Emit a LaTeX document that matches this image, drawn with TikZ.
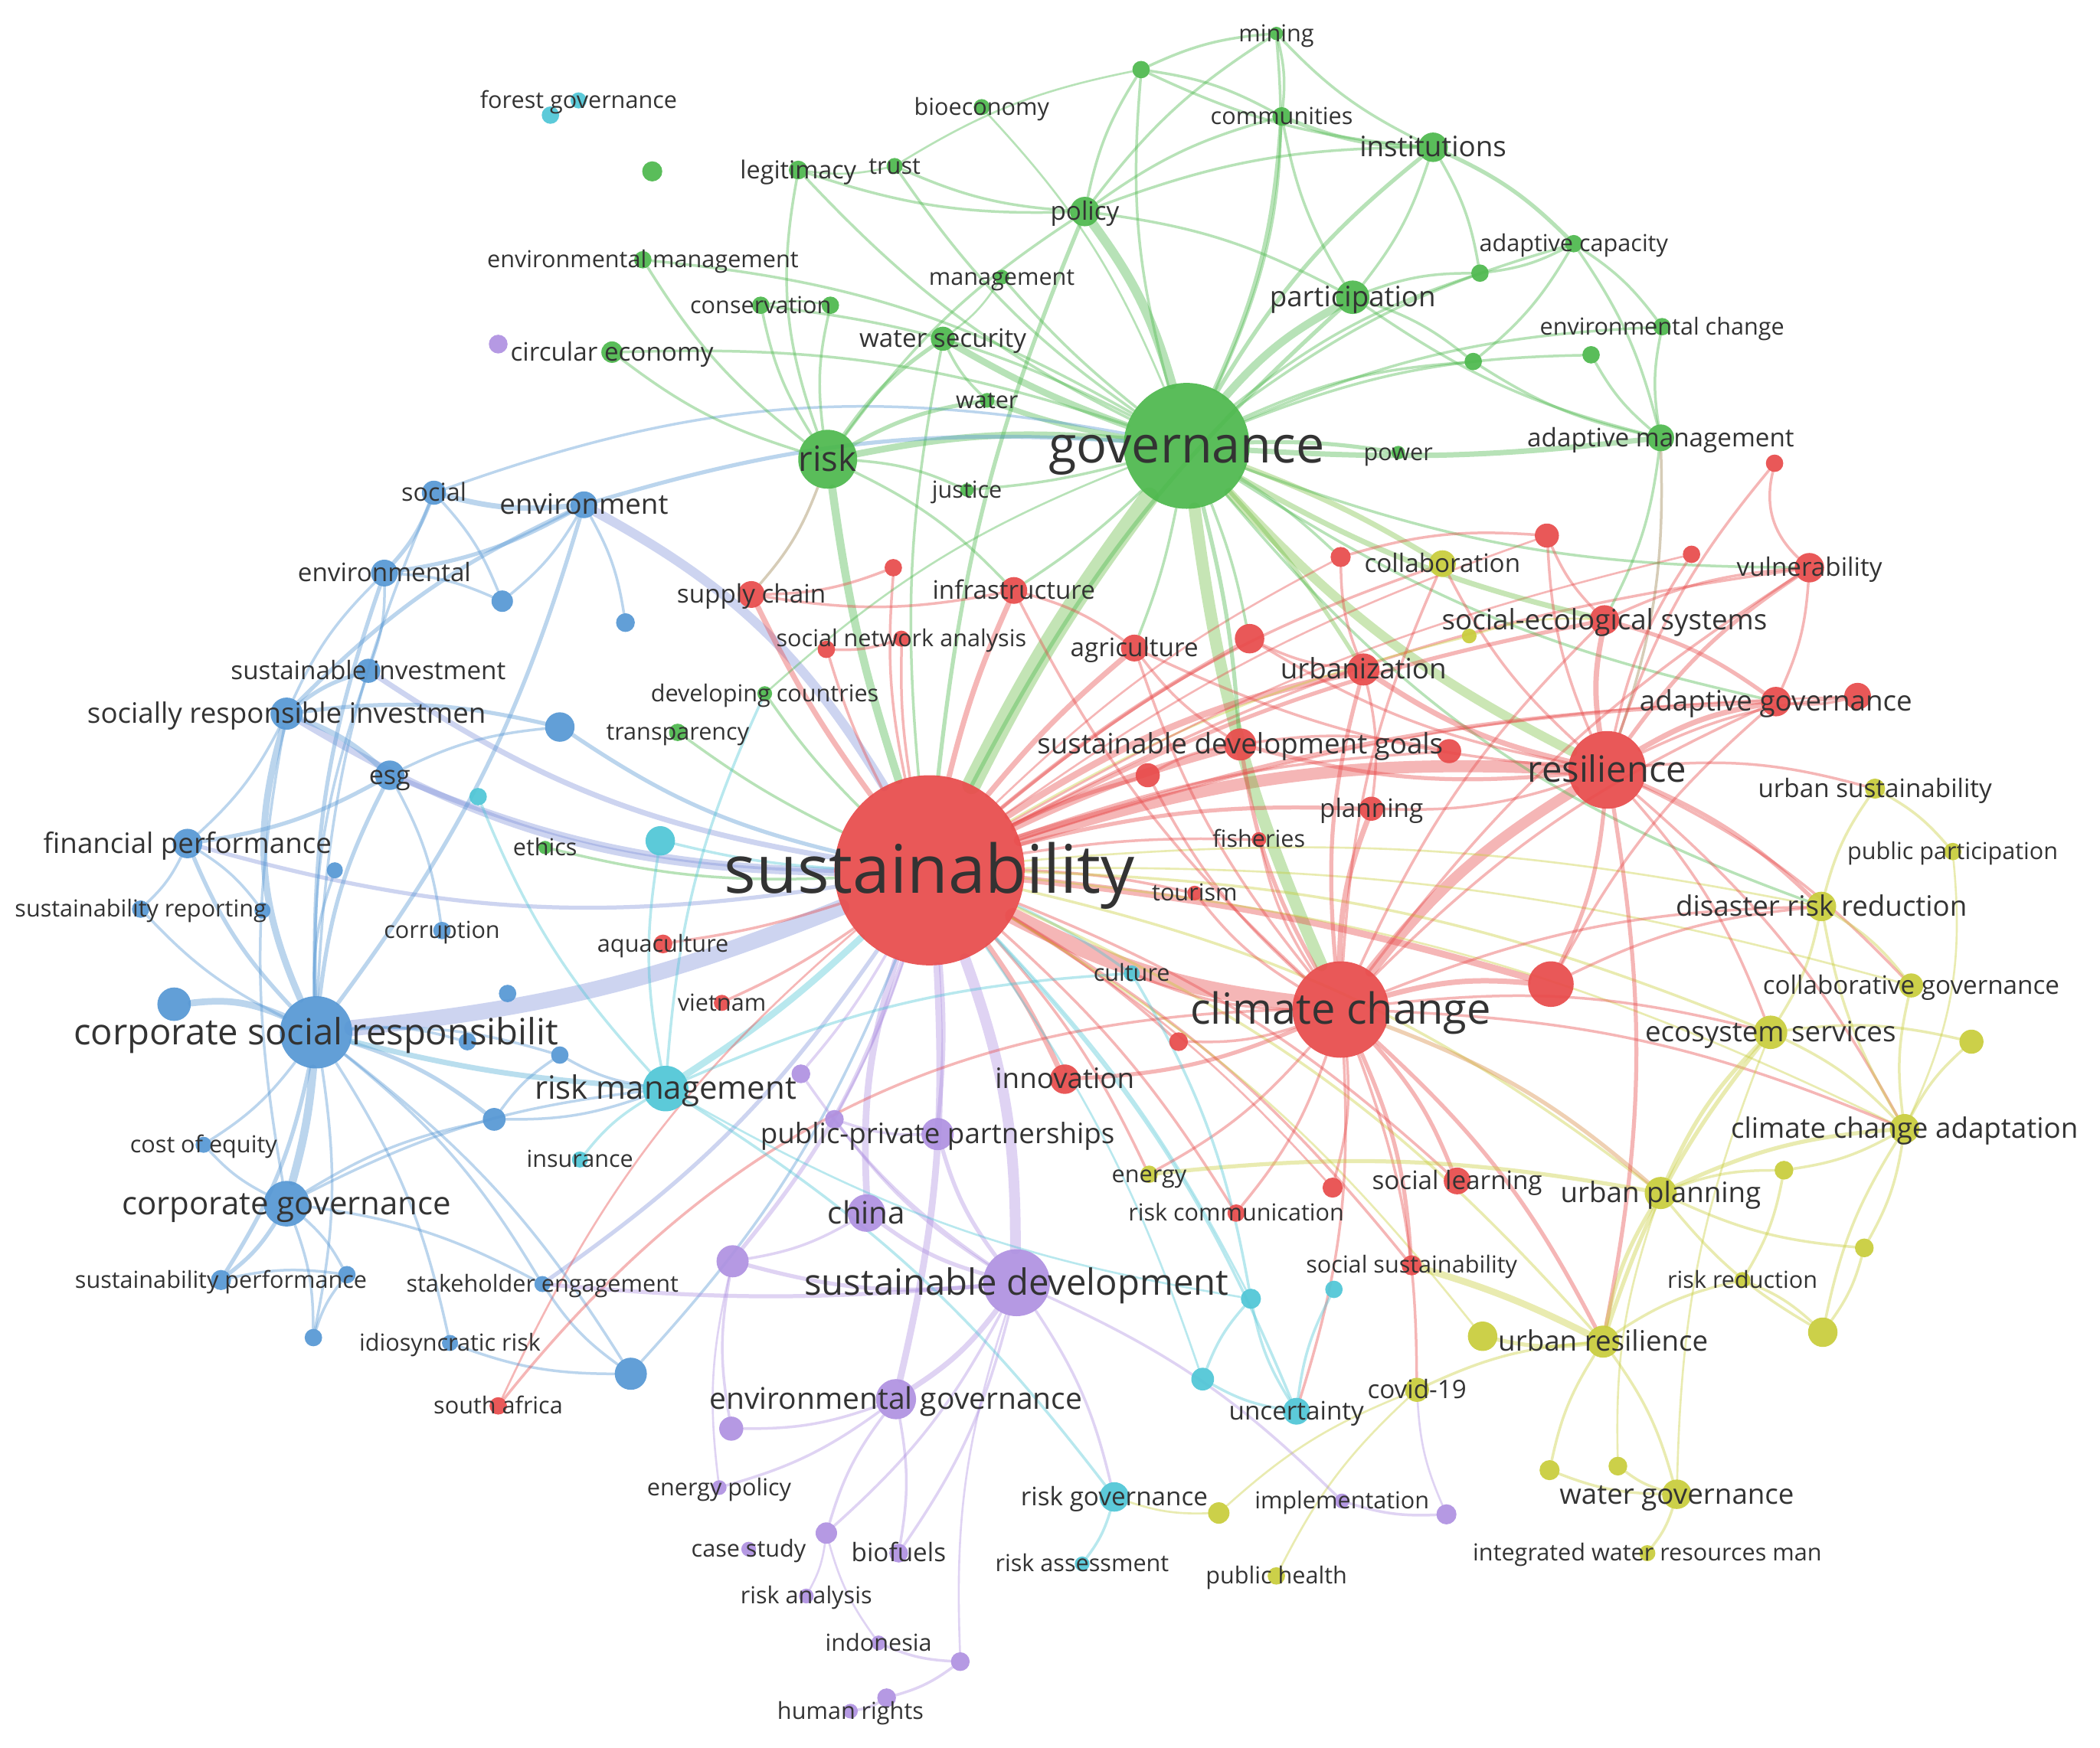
\documentclass[tikz,border=0pt]{standalone}
\usepackage{fontspec}
\setmainfont{Open Sans}
\definecolor{cR}{HTML}{E84A4A}
\definecolor{cG}{HTML}{4CB84C}
\definecolor{cB}{HTML}{5597D4}
\definecolor{cY}{HTML}{C8CD3A}
\definecolor{cP}{HTML}{AF91E1}
\definecolor{cC}{HTML}{4FC6D6}
\definecolor{txt}{HTML}{333333}
\pgfdeclarelayer{back}\pgfdeclarelayer{bg}
\pgfsetlayers{back,bg,main}
\tikzset{
  dot/.style={circle,inner sep=0pt,draw=none,fill opacity=0.92},
  lbl/.style={text=txt,inner sep=0pt,anchor=base},
  ed/.style={draw opacity=0.4,line cap=round}
}
\newcommand\mynode[4]{\node[dot,fill=#4,minimum size=#3pt] (#1) at (#2) {};}
\newcommand\mylab[3]{\node[lbl,font=\fontsize{#2}{#2}\selectfont,yshift=-#2*0.34pt] (#1-l) at (#1.center) {#3};}
\begin{document}
\begin{tikzpicture}[x=1pt,y=-1pt]
\begin{pgfonlayer}{back}
\fill[white] (0,0) rectangle (1568,1305);
\end{pgfonlayer}
\useasboundingbox (0,0) rectangle (1568,1305);
% green
\mynode{mining}{953,25}{10}{cG}
\mynode{gA}{852,52}{13}{cG}
\mynode{commun}{957,87}{14}{cG}
\mynode{instit}{1070,110}{22}{cG}
\mynode{bioeco}{733,80}{12}{cG}
\mynode{legit}{596,127}{14}{cG}
\mynode{trust}{668,124}{12}{cG}
\mynode{gB}{487,128}{15}{cG}
\mynode{policy}{810,158}{22}{cG}
\mynode{envmgmt}{480,194}{13}{cG}
\mynode{mgmt}{748,207}{11}{cG}
\mynode{conserv}{568,228}{13}{cG}
\mynode{gC}{620,228}{13}{cG}
\mynode{watersec}{704,253}{18}{cG}
\mynode{circec}{457,263}{16}{cG}
\mynode{water}{737,299}{11}{cG}
\mynode{risk}{618,343}{44}{cG}
\mynode{justice}{722,366}{10}{cG}
\mynode{partic}{1010,222}{25}{cG}
\mynode{gD}{1105,204}{13}{cG}
\mynode{gE}{1100,270}{13}{cG}
\mynode{adcap}{1175,182}{13}{cG}
\mynode{envch}{1241,244}{13}{cG}
\mynode{gF}{1188,265}{13}{cG}
\mynode{power}{1044,338}{10}{cG}
\mynode{adman}{1240,327}{20}{cG}
\mynode{gov}{886,333}{94}{cG}
\mynode{devc}{571,518}{11}{cG}
\mynode{transp}{506,547}{13}{cG}
\mynode{ethics}{407,633}{10}{cG}
% blue
\mynode{forgov}{432,75}{12}{cC}
\mynode{cA}{411,86}{13}{cC}
\mynode{social}{324,368}{18}{cB}
\mynode{environment}{436,377}{20}{cB}
\mynode{envtal}{287,428}{20}{cB}
\mynode{bA}{375,449}{16}{cB}
\mynode{bB}{467,465}{14}{cB}
\mynode{susinv}{275,501}{18}{cB}
\mynode{sri}{214,533}{24}{cB}
\mynode{bC}{418,543}{22}{cB}
\mynode{esg}{291,579}{22}{cB}
\mynode{cB}{357,595}{13}{cC}
\mynode{cC}{493,628}{22}{cC}
\mynode{finperf}{140,630}{22}{cB}
\mynode{bD}{250,650}{12}{cB}
\mynode{susrep}{105,679}{13}{cB}
\mynode{bE}{196,680}{12}{cB}
\mynode{corrupt}{330,695}{13}{cB}
\mynode{bF}{379,742}{13}{cB}
\mynode{bG}{130,750}{25}{cB}
\mynode{csr}{236,771}{54}{cB}
\mynode{bH}{349,778}{13}{cB}
\mynode{bI}{418,788}{13}{cB}
\mynode{bJ}{369,836}{17}{cB}
\mynode{coe}{152,855}{12}{cB}
\mynode{cgov}{214,899}{34}{cB}
\mynode{susperf}{165,956}{15}{cB}
\mynode{bK}{259,952}{13}{cB}
\mynode{bL}{234,999}{13}{cB}
\mynode{idio}{336,1003}{12}{cB}
\mynode{stake}{405,959}{12}{cB}
\mynode{bM}{471,1026}{24}{cB}
\mynode{insur}{433,866}{12}{cC}
% cyan
\mynode{riskman}{497,813}{34}{cC}
\mynode{culture}{845,727}{12}{cC}
\mynode{cD}{934,970}{15}{cC}
\mynode{cE}{996,963}{13}{cC}
\mynode{cF}{898,1030}{17}{cC}
\mynode{uncert}{968,1054}{20}{cC}
\mynode{riskgov}{832,1118}{22}{cC}
\mynode{riskass}{808,1168}{11}{cC}
% purple
\mynode{sd}{759,958}{50}{cP}
\mynode{china}{647,906}{28}{cP}
\mynode{pA}{547,942}{24}{cP}
\mynode{envgov}{669,1045}{30}{cP}
\mynode{pB}{546,1067}{18}{cP}
\mynode{enpol}{537,1111}{11}{cP}
\mynode{pC}{617,1145}{16}{cP}
\mynode{casest}{559,1157}{11}{cP}
\mynode{biof}{671,1160}{14}{cP}
\mynode{riskan}{602,1192}{11}{cP}
\mynode{indo}{656,1227}{11}{cP}
\mynode{pD}{717,1241}{14}{cP}
\mynode{pE}{662,1268}{14}{cP}
\mynode{human}{635,1278}{11}{cP}
\mynode{ppp}{700,847}{24}{cP}
\mynode{pF}{623,836}{14}{cP}
\mynode{pG}{598,802}{14}{cP}
\mynode{impl}{1002,1121}{11}{cP}
\mynode{pH}{1080,1131}{15}{cP}
\mynode{pI}{372,257}{14}{cP}
% yellow
\mynode{collab}{1077,421}{20}{cY}
\mynode{yA}{1097,475}{11}{cY}
\mynode{energy}{858,877}{13}{cY}
\mynode{urbsus}{1400,589}{15}{cY}
\mynode{pubpart}{1458,636}{13}{cY}
\mynode{drr}{1360,677}{22}{cY}
\mynode{colgov}{1427,736}{18}{cY}
\mynode{yB}{1472,778}{18}{cY}
\mynode{ecoserv}{1322,771}{25}{cY}
\mynode{cca}{1422,843}{22}{cY}
\mynode{yC}{1332,874}{14}{cY}
\mynode{urbplan}{1240,891}{24}{cY}
\mynode{yD}{1392,932}{14}{cY}
\mynode{riskred}{1301,956}{12}{cY}
\mynode{yE}{1361,995}{22}{cY}
\mynode{urbres}{1197,1002}{24}{cY}
\mynode{yF}{1107,998}{22}{cY}
\mynode{covid}{1058,1038}{18}{cY}
\mynode{yG}{1208,1095}{14}{cY}
\mynode{yH}{1157,1098}{15}{cY}
\mynode{watgov}{1252,1116}{22}{cY}
\mynode{iwrm}{1230,1160}{12}{cY}
\mynode{pubhealth}{953,1177}{13}{cY}
\mynode{yI}{910,1130}{16}{cY}
% red
\mynode{sus}{694,650}{142}{cR}
\mynode{cc}{1001,754}{72}{cR}
\mynode{res}{1200,575}{58}{cR}
\mynode{rA}{1158,735}{34}{cR}
\mynode{supply}{561,444}{20}{cR}
\mynode{infra}{757,441}{20}{cR}
\mynode{sna}{673,477}{12}{cR}
\mynode{rB}{617,485}{13}{cR}
\mynode{rC}{667,424}{13}{cR}
\mynode{agri}{847,484}{20}{cR}
\mynode{rD}{933,477}{22}{cR}
\mynode{urbz}{1018,500}{24}{cR}
\mynode{rE}{1001,416}{15}{cR}
\mynode{rF}{1155,400}{18}{cR}
\mynode{rG}{1263,414}{13}{cR}
\mynode{rH}{1325,346}{13}{cR}
\mynode{vuln}{1351,424}{22}{cR}
\mynode{seco}{1198,463}{22}{cR}
\mynode{sdg}{926,556}{24}{cR}
\mynode{rI}{1082,561}{18}{cR}
\mynode{rJ}{857,579}{18}{cR}
\mynode{plan}{1024,604}{18}{cR}
\mynode{fish}{940,627}{11}{cR}
\mynode{tour}{892,667}{11}{cR}
\mynode{rK}{880,778}{14}{cR}
\mynode{innov}{795,806}{22}{cR}
\mynode{adgov}{1326,524}{22}{cR}
\mynode{rL}{1387,520}{20}{cR}
\mynode{soclearn}{1088,882}{20}{cR}
\mynode{rM}{995,887}{15}{cR}
\mynode{socsus}{1054,945}{15}{cR}
\mynode{riskcom}{923,906}{13}{cR}
\mynode{aqua}{495,705}{14}{cR}
\mynode{viet}{539,749}{12}{cR}
\mynode{safr}{372,1050}{13}{cR}

\begin{pgfonlayer}{bg}
\foreach \c/\w/\a/\b/\k in {
cG!75!cY/14/sus/gov/5, cR/12/sus/cc/-10, cR/9/sus/res/10, cG!70!cY/9/gov/cc/-8, cG!60!cY/7/gov/res/-10, cR/8/cc/res/10,
cB!50!cP/12/sus/csr/8, cB!50!cP/7/sus/environment/-15, cP/8/sus/sd/10, cG/6/sus/risk/5, cR/6/sus/sdg/5, cR/5/sus/urbz/10,
cC/5/sus/riskman/5, cP/5/sus/china/-10, cP/5/sus/envgov/8, cR/5/sus/rA/5, cR/4/sus/innov/5, cR/4/sus/agri/5, cR/4/sus/infra/5,
cR/4/sus/supply/5, cR/3/sus/plan/8, cR/3/sus/seco/8, cR/3/sus/adgov/8, cR/2/sus/vuln/10,
cB!50!cP/5/sus/sri/15, cB!50!cP/4/sus/susinv/12, cB!50!cP/4/sus/esg/10, cB!50!cP/3/sus/finperf/12, cG/2/sus/ethics/8, cB/3/sus/bC/10,
cR/2/sus/aqua/5, cR/2/sus/viet/5, cR/3/sus/rJ/5, cR/3/sus/rD/5, cR/2/sus/sna/5, cR/2/sus/rB/5, cR/2/sus/rC/8, cR/2/sus/fish/5,
cR/2/sus/tour/5, cR/2/sus/rK/5, cR/2/sus/socsus/10, cR/2/sus/soclearn/10, cR/2/sus/riskcom/8, cR/2/sus/energy/8, cP/3/sus/ppp/5,
cP/3/sus/pA/10, cP/2/sus/pG/5, cB/2/sus/bM/10, cB!50!cP/3/sus/stake/10, cR/2/sus/collab/10, cG/3/sus/partic/10, cG/3/sus/policy/8,
cG/2/sus/watersec/8, cG/2/sus/devc/5, cG/2/sus/transp/5, cC/2/sus/culture/5, cC/2/sus/cC/5, cC/2/sus/uncert/10, cY/2/sus/urbres/12,
cY/2/sus/ecoserv/10, cY/2/sus/urbplan/12, cR/2/sus/rI/8, cY/1.5/sus/yA/8,
cR/1.5/sus/rE/8, cR/1.5/sus/rF/8, cR/1.5/sus/rG/8, cR/1.5/sus/rL/8, cY/1.5/sus/drr/8, cY/1.5/sus/cca/10, cY/1.5/sus/colgov/8,
cR/1.5/sus/rM/8, cC/1.5/sus/cD/8, cC/1.5/sus/cF/8, cY/1.5/sus/yF/10, cP/1.5/sus/pF/5, cR/1.5/sus/safr/-12,
cG/7/gov/policy/-10, cG/6/gov/partic/10, cG/5/gov/risk/-8, cG/5/gov/watersec/5, cG/4/gov/water/5, cG/3/gov/instit/10, cG/3/gov/commun/-10,
cG/2/gov/mining/-15, cG/2/gov/gA/10, cG/2/gov/legit/10, cG/2/gov/trust/10, cG/2/gov/mgmt/5, cG/2/gov/adcap/10, cG/4/gov/adman/-5,
cG/2/gov/envch/10, cG/3/gov/power/5, cG/2/gov/justice/5, cG/2/gov/gD/10, cG/2/gov/gE/10, cG/2/gov/gF/10, cG!60!cY/4/gov/collab/5,
cG!70!cY/4/gov/seco/-8, cG!70!cY/3/gov/urbz/5, cG/3/gov/sdg/5, cG/2/gov/agri/5, cG/2/gov/infra/5, cG/2/gov/vuln/-10, cG/2/gov/rD/5,
cG/2/gov/rE/5, cG/2/gov/drr/-15, cG/2/gov/adgov/-10, cB/2/social/gov/15, cB/3/environment/gov/10, cG/2/circec/gov/10, cG/2/conserv/gov/10,
cG/2/envmgmt/gov/12, cG/1.5/bioeco/gov/10, cG/1.5/devc/gov/10,
cG/3/risk/watersec/10, cG/3/risk/water/10, cG/2/risk/conserv/10, cG/2/risk/envmgmt/10, cG/2/risk/legit/15, cG/2/risk/circec/10,
cG/2/risk/gC/10, cG/2/risk/justice/10, cG!50!cR/2/risk/supply/10, cG/2/risk/infra/10, cG/2/risk/policy/10,
cG/2/policy/mining/10, cG/2/policy/gA/10, cG/2/policy/trust/10, cG/2/policy/commun/10, cG/2/policy/legit/10, cG/2/policy/partic/10,
cG/2/policy/instit/10, cG/3/instit/commun/10, cG/3/instit/adcap/10, cG/2/instit/mining/10, cG/2/instit/gA/10, cG/2/instit/partic/10,
cG/2/instit/gD/10, cG/2/adcap/envch/10, cG/2/adcap/adman/10, cG/2/adcap/gD/10, cG/2/adcap/gE/10, cG/2/adman/envch/10, cG/2/adman/gE/10,
cG/2/adman/gF/10, cG/2/adman/partic/10, cG!50!cR/2/adman/res/10, cG/2/adman/seco/10, cG/2/partic/gD/10, cG/2/partic/gE/10,
cG/2/partic/commun/10, cG/1.5/trust/legit/10, cG/1.5/trust/gA/10, cG/2/gA/mining/10, cG/2/gA/commun/10, cG/2/mining/commun/10,
cG/2/water/watersec/10, cG/1.5/mgmt/watersec/10, cG/1.5/conserv/gC/10,
cB/6/csr/cgov/5, cB/5/csr/sri/20, cB/5/csr/bG/-15, cB/3/csr/finperf/10, cB/3/csr/esg/10, cB/2/csr/susrep/10, cB/2/csr/coe/10,
cB/3/csr/susperf/10, cB/2/csr/bL/10, cB/2/csr/stake/10, cB/3/csr/bJ/10, cB/2/csr/bH/10, cB/2/csr/bI/10, cB/3/csr/environment/-10,
cB!50!cC/4/csr/riskman/-5, cB/2/csr/social/10, cB/3/csr/envtal/10, cB/2/csr/susinv/10, cB/2/csr/bD/10, cB/2/csr/idio/10, cB/2/csr/bM/10,
cB/3/cgov/susperf/10, cB/2/cgov/bK/10, cB/2/cgov/bL/10, cB/2/cgov/stake/10, cB/2/cgov/riskman/10, cB/2/cgov/bJ/10, cB/2/cgov/coe/10,
cB/2/cgov/sri/10, cB/3/sri/susinv/10, cB/4/sri/esg/10, cB/2/sri/finperf/10, cB/3/sri/bC/10, cB/3/sri/environment/10, cB/2/sri/envtal/10,
cB/4/environment/social/10, cB/3/environment/envtal/10, cB/3/social/envtal/10, cB/2/envtal/bA/10, cB/2/environment/bB/10,
cB/2/environment/bA/10, cB/2/social/bA/10, cB/2/envtal/susinv/10, cB/3/esg/finperf/10, cB/2/esg/bC/10, cB/2/esg/corrupt/10,
cB/2/finperf/susrep/10, cB/2/finperf/bE/10, cB/2/bJ/bI/10, cB/2/bM/stake/10, cB/2/bM/idio/10, cB/2/bL/bK/10, cB/2/susperf/bK/10,
cC/2/insur/riskman/10, cC/2/riskman/cC/10, cC/2/riskman/cB/10, cC/2/riskman/culture/10, cB/2/riskman/bI/10, cB/2/riskman/bJ/10,
cR/3/cc/innov/10, cR/4/cc/plan/10, cR/4/cc/rA/10, cR/3/cc/socsus/10, cR/3/cc/soclearn/10, cR!50!cY/3/cc/urbplan/10, cR/3/cc/urbres/10,
cR/2/cc/adgov/10, cR/2/cc/vuln/10, cR/2/cc/riskcom/10, cR/2/cc/rK/10, cR/2/cc/ecoserv/10, cR/2/cc/drr/10, cR/2/cc/rM/10, cR/2/cc/tour/10,
cR/2/cc/fish/10, cR/2/cc/culture/10, cR/3/cc/urbz/10, cR/3/cc/sdg/10, cR/2/cc/agri/10, cR/2/cc/infra/10, cR/2/cc/seco/10, cR/2/cc/cca/10,
cR/2/cc/rJ/10, cR/2/cc/energy/10, cR/2/cc/covid/10, cR/2/cc/uncert/10, cR/2/cc/collab/10,
cR/4/res/seco/10, cR/4/res/adgov/10, cR/4/res/urbz/10, cR/3/res/vuln/10, cR/3/res/sdg/10, cR/3/res/rA/10, cR/3/res/drr/10, cR/2/res/plan/10,
cR/2/res/rF/10, cR/2/res/rG/10, cR/2/res/ecoserv/10, cR/3/res/urbres/10, cR/2/res/collab/10, cR/2/res/rL/10, cR/2/res/urbsus/10,
cR/2/res/rH/10, cR/2/res/rD/10, cR/2/res/agri/10, cR/2/res/cca/10, cR/2/res/colgov/10,
cR/2/sdg/rI/10, cR/2/sdg/agri/10, cR/2/urbz/plan/10, cR/3/seco/adgov/10, cR/2/seco/rF/10, cR/2/rE/rF/10, cR/2/rH/vuln/-30, cR/2/rL/adgov/10,
cR/2/vuln/adgov/10, cR/2/seco/vuln/10, cR/2/urbz/rD/10, cR/2/urbz/rE/10, cR/2/infra/supply/10, cR/2/infra/agri/10, cR/2/sna/rB/10,
cR/2/rC/supply/10, cR/2/rJ/sdg/10, cR/2/rA/drr/10, cR/2/rA/adgov/10, cR/2/safr/cc/25,
cY/3/urbres/urbplan/10, cY/3/urbres/ecoserv/10, cY/3/urbplan/cca/10, cY/3/urbplan/ecoserv/10, cY/2/cca/colgov/10, cY/2/cca/yB/10,
cY/2/cca/drr/10, cY/2/drr/colgov/10, cY/2/drr/urbsus/10, cY/2/urbsus/pubpart/10, cY/2/ecoserv/yB/10, cY/2/yC/riskred/10, cY/2/yD/yE/10,
cY/2/riskred/yE/10, cY/2/watgov/yG/10, cY/2/watgov/iwrm/10, cY/2/watgov/yH/10, cY/2/yE/urbplan/10, cY/3/urbres/yF/10, cY/2/covid/urbres/10,
cY/5/socsus/urbres/5, cY/3/energy/urbplan/8, cY/2/urbplan/yC/10, cY/2/cca/yC/10, cY/2/cca/yD/10, cY/2/yD/urbplan/10, cY/2/ecoserv/cca/10,
cY/2/drr/ecoserv/10, cY/2/yE/cca/10, cY/2/urbres/riskred/10, cY/2/urbres/watgov/10, cY/2/yH/urbres/10, cY/1.5/yG/urbplan/10,
cY/1.5/watgov/ecoserv/10, cY/1.5/pubpart/cca/15, cY/1.5/yI/riskgov/10, cY/1.5/pubhealth/covid/10, cY/1.5/yI/covid/10, cY/1.5/yA/seco/10,
cP/4/sd/envgov/10, cP/3/sd/china/10, cP/3/sd/pA/10, cP/3/sd/ppp/10, cP/2/sd/biof/10, cP/2/sd/riskgov/10, cP/2/sd/impl/10, cP/2/envgov/pB/10,
cP/2/envgov/enpol/10, cP/2/pC/envgov/10, cP/2/pD/indo/10, cP/2/pD/pE/10, cP/2/pE/human/10, cP/3/sd/stake/5, cP/2/pH/impl/10,
cP/1.5/pH/covid/10, cP/2/sd/pG/10, cP/2/sd/pF/10, cP/2/china/pA/10, cP/2/ppp/pF/10, cP/1.5/pC/riskan/10, cP/1.5/pD/sd/10,
cP/1.5/enpol/pA/10, cP/2/pB/pA/10, cP/2/sd/pC/10, cP/1.5/indo/pC/10, cP/2/envgov/biof/10,
cC/2/uncert/cF/10, cC/2/uncert/cD/10, cC/2/uncert/cE/10, cC/2/riskgov/riskass/10, cC/2/cF/cD/10, cC/2/culture/cD/10, cC/2/riskman/riskgov/10,
cC/1.5/cD/riskman/10, cC/2/riskman/devc/10
}{
\draw[ed,\c,line width=\w pt] (\a) to[bend left=\k] (\b);
}
\end{pgfonlayer}

% labels
\mylab{mining}{17.5}{mining}
\mylab{commun}{17.5}{communities}
\mylab{instit}{21}{institutions}
\mylab{bioeco}{17.5}{bioeconomy}
\mylab{legit}{18.5}{legitimacy}
\mylab{trust}{17.5}{trust}
\mylab{policy}{19}{policy}
\mylab{envmgmt}{17.5}{environmental management}
\mylab{mgmt}{17.5}{management}
\mylab{conserv}{17.5}{conservation}
\mylab{watersec}{19}{water security}
\mylab{circec}{19}{circular economy}
\mylab{water}{17.5}{water}
\mylab{risk}{26}{risk}
\mylab{justice}{17.5}{justice}
\mylab{partic}{21}{participation}
\mylab{adcap}{17.5}{adaptive capacity}
\mylab{envch}{17.5}{environmental change}
\mylab{power}{17.5}{power}
\mylab{adman}{19}{adaptive management}
\mylab{gov}{38}{governance}
\mylab{devc}{17.5}{developing countries}
\mylab{transp}{17.5}{transparency}
\mylab{ethics}{17.5}{ethics}
\mylab{forgov}{17.5}{forest governance}
\mylab{social}{18.5}{social}
\mylab{environment}{21}{environment}
\mylab{envtal}{19}{environmental}
\mylab{susinv}{19}{sustainable investment}
\mylab{sri}{21}{socially responsible investmen}
\mylab{esg}{19.5}{esg}
\mylab{finperf}{21}{financial performance}
\mylab{susrep}{17.5}{sustainability reporting}
\mylab{corrupt}{17.5}{corruption}
\mylab{csr}{27}{corporate social responsibilit}
\mylab{coe}{17.5}{cost of equity}
\mylab{cgov}{24}{corporate governance}
\mylab{susperf}{17.5}{sustainability performance}
\mylab{idio}{17.5}{idiosyncratic risk}
\mylab{stake}{17.5}{stakeholder engagement}
\mylab{insur}{17.5}{insurance}
\mylab{riskman}{24}{risk management}
\mylab{culture}{17.5}{culture}
\mylab{uncert}{19}{uncertainty}
\mylab{riskgov}{19}{risk governance}
\mylab{riskass}{17.5}{risk assessment}
\mylab{sd}{27}{sustainable development}
\mylab{china}{23}{china}
\mylab{envgov}{22.3}{environmental governance}
\mylab{enpol}{17.5}{energy policy}
\mylab{casest}{17.5}{case study}
\mylab{biof}{19}{biofuels}
\mylab{riskan}{17.5}{risk analysis}
\mylab{indo}{17.5}{indonesia}
\mylab{human}{17.5}{human rights}
\mylab{ppp}{21}{public-private partnerships}
\mylab{impl}{17.5}{implementation}
\mylab{collab}{19}{collaboration}
\mylab{energy}{17.5}{energy}
\mylab{urbsus}{19}{urban sustainability}
\mylab{pubpart}{17.5}{public participation}
\mylab{drr}{21}{disaster risk reduction}
\mylab{colgov}{19}{collaborative governance}
\mylab{ecoserv}{21}{ecosystem services}
\mylab{cca}{21}{climate change adaptation}
\mylab{urbplan}{21}{urban planning}
\mylab{riskred}{17.5}{risk reduction}
\mylab{urbres}{21}{urban resilience}
\mylab{covid}{19}{covid-19}
\mylab{watgov}{21}{water governance}
\mylab{iwrm}{17.5}{integrated water resources man}
\mylab{pubhealth}{17.5}{public health}
\mylab{sus}{50}{sustainability}
\mylab{cc}{32}{climate change}
\mylab{res}{27}{resilience}
\mylab{supply}{19}{supply chain}
\mylab{infra}{19}{infrastructure}
\mylab{sna}{17.5}{social network analysis}
\mylab{agri}{19}{agriculture}
\mylab{urbz}{21}{urbanization}
\mylab{vuln}{19}{vulnerability}
\mylab{seco}{21}{social-ecological systems}
\mylab{sdg}{21}{sustainable development goals}
\mylab{plan}{19}{planning}
\mylab{fish}{17.5}{fisheries}
\mylab{tour}{17.5}{tourism}
\mylab{innov}{21}{innovation}
\mylab{adgov}{21}{adaptive governance}
\mylab{soclearn}{19}{social learning}
\mylab{socsus}{17.5}{social sustainability}
\mylab{riskcom}{17.5}{risk communication}
\mylab{aqua}{17.5}{aquaculture}
\mylab{viet}{17.5}{vietnam}
\mylab{safr}{17.5}{south africa}
\end{tikzpicture}
\end{document}
